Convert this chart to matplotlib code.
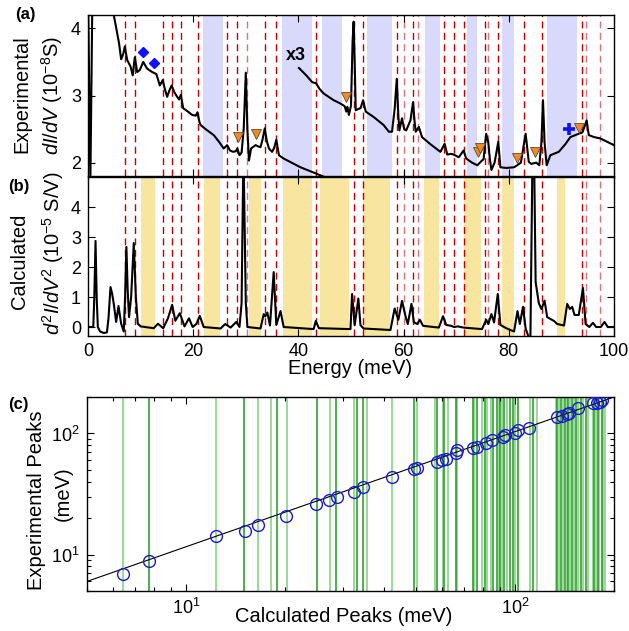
import matplotlib
matplotlib.use("Agg")
import matplotlib.pyplot as plt
import numpy as np

plt.rcParams['font.family'] = ['Liberation Sans', 'DejaVu Sans']
plt.rcParams['mathtext.fontset'] = 'custom'
plt.rcParams['mathtext.rm'] = 'Liberation Sans'
plt.rcParams['mathtext.it'] = 'Liberation Sans:italic'
plt.rcParams['mathtext.bf'] = 'Liberation Sans:bold'

# ---------------- data ----------------
# experimental dI/dV (10^-8 S), unscaled part
exp_E = [0.0, 0.45, 0.85, 4.6, 4.9, 5.9, 6.3, 6.7, 7.0, 7.45, 8.1, 8.5, 8.9, 9.35, 9.85,
         10.5, 11.25, 12.2, 13.0, 13.65, 14.2, 14.6, 15.05, 15.5, 15.9, 16.4, 16.8, 17.3,
         17.65, 18.1, 19.0, 19.8, 20.5, 20.8, 21.2, 21.4, 22.5, 23.9, 25.0, 25.8, 26.45,
         27.0, 27.6, 28.1, 28.4, 28.8, 29.2, 29.6, 30.0, 30.3, 30.6, 31.0, 31.85, 32.4,
         32.8, 33.2, 33.6, 34.0, 34.4, 35.0, 35.4, 35.8, 36.1, 36.3, 37.2, 40.4, 43.25,
         44.8, 46.0]
exp_G = [4.6, 1.7, 4.6, 4.35, 4.2, 3.78, 3.54, 3.62, 3.73, 3.53, 3.43, 3.30, 3.57, 3.35, 3.38,
         3.50, 3.40, 3.35, 3.32, 3.15, 3.23, 3.10, 2.98, 3.08, 3.15, 3.05, 3.00, 2.94,
         3.01, 2.81, 2.76, 2.71, 2.70, 2.75, 2.60, 2.56, 2.49, 2.41, 2.30, 2.21, 2.26,
         2.18, 2.16, 2.17, 2.21, 2.11, 2.15, 2.50, 3.34, 2.50, 2.03, 2.21, 2.26, 2.24,
         2.23, 2.35, 2.51, 2.32, 2.21, 2.16, 2.22, 2.34, 2.20, 2.11, 2.06, 1.93, 1.84,
         1.79, 1.75]

# experimental dI/dV, magnified x3 above 40 meV
x3_E = [40.1, 41.5, 42.6, 43.4, 44.0, 44.8, 46.7, 48.0, 48.8, 49.1, 49.3, 49.6, 50.0, 50.3,
        50.5, 50.7, 50.9, 51.4, 51.8, 52.3, 52.8, 54.3, 56.2, 57.2, 57.8, 58.3, 58.7, 59.0,
        59.2, 59.7, 60.1, 60.5, 61.3, 61.8, 62.1, 62.3, 62.9, 63.5, 65.0, 67.0, 67.8, 68.3,
        69.0, 69.5, 70.0, 70.5, 71.4, 71.9, 73.0, 74.0, 74.9, 75.2, 75.7, 76.1, 76.4, 76.7,
        77.3, 78.0, 78.4, 79.5, 81.0, 81.6, 82.3, 83.2, 83.8, 84.3, 84.75, 85.2, 85.8, 86.2,
        86.5, 86.8, 87.2, 87.9, 89.5, 90.8, 91.7, 93.3, 94.0, 94.8, 95.2, 96.2, 97.4, 98.7,
        100.0]
x3_G = [3.41, 3.30, 3.20, 3.18, 3.10, 3.03, 2.93, 2.88, 2.84, 2.76, 2.83, 2.71, 2.85, 3.80,
        4.10, 3.50, 2.78, 2.80, 2.81, 2.93, 2.76, 2.68, 2.56, 2.46, 2.46, 2.80, 3.25, 2.70,
        2.48, 2.66, 2.50, 2.48, 2.63, 2.90, 2.60, 2.46, 2.53, 2.38, 2.28, 2.16, 2.28, 2.12,
        2.13, 2.12, 2.10, 2.08, 2.18, 2.06, 2.00, 1.96, 2.03, 2.05, 2.43, 2.30, 2.05, 1.89,
        2.00, 2.31, 1.93, 1.92, 1.93, 1.96, 2.00, 2.43, 2.01, 1.98, 1.99, 2.00, 1.96, 2.30,
        2.93, 2.30, 1.96, 2.11, 2.16, 2.28, 2.38, 2.43, 2.45, 2.63, 2.41, 2.38, 2.36, 2.31,
        2.26]

# calculated d2I/dV2 (10^-5 S/V)
calc_E = [0.0, 1.0, 1.2, 1.43, 1.65, 1.87, 2.3, 3.0, 3.6, 3.9, 4.28, 4.6, 4.9, 5.35, 5.8,
          6.3, 6.8, 7.05, 7.3, 7.55, 7.8, 8.2, 8.7, 9.1, 9.47, 10.0, 12.5, 13.3, 14.3, 15.2,
          16.0, 16.6, 17.45, 18.35, 19.2, 19.9, 20.6, 21.25, 22.0, 25.2, 26.1, 27.1, 28.2,
          28.8, 29.2, 29.55, 30.0, 30.3, 32.8, 33.4, 33.7, 34.1, 34.6, 35.3, 35.8, 36.6,
          37.2, 42.9, 43.3, 43.9, 49.9, 50.2, 50.7, 51.4, 51.8, 52.4, 57.5, 58.3, 59.0, 59.7,
          60.4, 60.8, 61.5, 61.95, 62.6, 63.1, 63.7, 66.7, 67.5, 68.1, 69.0, 69.6, 70.3,
          71.4, 74.9, 75.7, 76.1, 76.7, 77.2, 77.9, 78.4, 79.5, 81.0, 81.65, 82.1, 82.7,
          83.2, 84.1, 84.65, 85.1, 85.7, 86.2, 86.8, 87.3, 88.6, 89.2, 90.5, 91.1, 91.6,
          92.05, 92.5, 93.3, 94.1, 94.6, 95.3, 96.0, 96.6, 97.5, 98.2, 98.8, 100.0]
calc_S = [0.0, 0.0, 1.0, 2.87, 1.0, 0.0, -0.15, -0.2, -0.18, 0.3, 1.33, 1.1, 0.77, 0.17, 0.7,
          0.11, -0.15, 1.0, 2.67, 1.2, 0.33, 1.0, 2.80, 1.0, 0.11, 0.02, -0.04, 0.11, -0.04, 0.29,
          0.74, 0.21, 0.46, 0.02, 0.29, 0.0, 0.1, 0.37, 0.0, -0.05, 0.1, -0.02, 0.17,
          0.0, 0.8, 6.0, 0.8, 0.0, -0.05, 0.43, 0.35, 0.48, 0.05, 1.83, 0.07, 0.53,
          0.0, -0.07, 0.2, -0.04, -0.07, 1.1, 0.06, 0.95, 0.06, -0.05, -0.1, 0.62, 0.24, 0.87,
          0.33, 0.1, 0.77, 0.16, 0.1, 0.24, 0.04, -0.02, 0.36, 0.07, 0.04, 0.0, 0.02,
          -0.02, -0.07, 0.24, 0.1, 0.43, 0.15, 1.1, 0.07, -0.04, -0.15, 0.53, 0.1, 0.67,
          -0.05, -0.5, 8.0, 1.5, 0.8, 0.6, 0.88, 0.33, 0.2, 0.1, 0.05, 0.77, 0.6,
          0.67, 0.4, 0.4, 1.3, 0.1, 0.0, 0.14, 0.0, 0.0, 0.17, 0.0, 0.0]

# experimental peak positions (meV): strong and weak assignments
peaks_strong = [7.0, 8.9, 14.2, 15.9, 17.6, 20.9, 26.4, 28.4, 33.6, 35.8, 43.4, 50.5, 52.3,
                58.7, 61.8, 67.7, 69.6, 71.4, 75.5, 77.9, 82.9, 86.4, 94.0]
peaks_weak = [30.2, 60.1, 62.8, 76.1, 94.7, 97.4]

# shaded energy windows (meV)
bands_exp = [(21.8, 25.7), (36.8, 42.5), (44.4, 48.3), (53.1, 57.8), (64.0, 67.0),
             (72.1, 74.0), (78.7, 81.0), (87.2, 92.9)]
bands_calc = [(10.0, 12.8), (22.0, 25.0), (30.6, 32.8), (37.0, 42.6), (44.1, 49.6),
              (52.2, 57.5), (63.8, 66.8), (71.5, 74.8), (78.7, 81.0), (89.1, 90.6)]

# special features marked on the experimental curve
diamond_E = [10.5, 12.6]
diamond_G = [3.65, 3.49]
tri_E = [28.55, 32.0, 49.0, 74.1, 74.6, 81.6, 84.9, 93.3]
tri_G = [2.38, 2.42, 2.98, 2.16, 2.22, 2.07, 2.16, 2.52]
plus_E = [91.4]
plus_G = [2.50]

# peak correspondence: calculated vs experimental (meV)
calc_peaks = [6.44, 7.72, 12.37, 15.07, 16.5, 20.2, 24.9, 27.2, 28.7, 32.4, 34.4, 42.3,
              49.4, 50.2, 57.8, 59.8, 61.5, 66.2, 66.5, 74.7, 76.4, 81.6, 85.3, 91.8, 93.3,
              100.0, 102.4, 110.5, 133.8, 138.7, 143.6, 146.3, 155.8, 173.0, 177.0, 181.0,
              184.5]
exp_peaks = [6.97, 8.87, 14.2, 15.7, 17.5, 20.8, 26.1, 28.1, 29.9, 32.9, 35.8, 43.3,
             50.4, 52.0, 58.2, 60.1, 62.1, 69.2, 72.8, 75.2, 77.5, 83.6, 88.1, 94.0, 96.8,
             100.0, 106.5, 110.0, 135.5, 139.0, 146.0, 148.0, 161.0, 177.0, 179.0, 182.5,
             188.0]
fit_x = [5.0, 200.0]
fit_y = [6.0, 200.0]

# all calculated mode energies (meV)
modes_dark = [7.72, 15.0, 18.9, 25.1, 28.6, 33.0, 34.4, 49.2, 58.1, 60.8, 66.2, 74.3, 76.5,
              81.1, 85.9, 88.2, 90.0, 92.7, 96.3, 98.9, 102.4, 113.7, 134.5, 137.7, 141.9,
              145.2, 148.7, 153.2, 158.4, 164.4, 173.9, 178.4, 183.5]
modes_light = [6.42, 12.34, 16.5, 18.1, 20.3, 27.3, 32.5, 35.6, 42.3, 50.2, 57.1, 60.3,
               62.4, 66.5, 75.0, 79.3, 82.4, 84.4, 89.7, 91.1, 94.8, 100.1, 111.1, 116.3,
               133.2, 136.1, 140.3, 143.6, 146.9, 151.1, 155.7, 161.3, 167.1, 172.3, 176.0,
               180.4, 185.5, 188.2]

# ---------------- figure ----------------
W, H = 629, 631
fig = plt.figure(figsize=(W / 100, H / 100), dpi=100)


def box(l, t, r, b):
    return [l / W, 1 - b / H, (r - l) / W, (b - t) / H]


def fxy(x, y):
    return x / W, 1 - y / H


ax_a = fig.add_axes(box(88, 15, 614, 176))
ax_b = fig.add_axes(box(88, 177, 614, 336))
ax_c = fig.add_axes(box(87, 397, 614, 591))

RED = '#c00000'
RED_L = '#d9737d'
LAV = '#d9d9fb'
YEL = '#f8e5a0'
TICK_FS = 13

for ax in (ax_a, ax_b, ax_c):
    ax.tick_params(direction='in', which='both', top=True, right=True,
                   labelsize=TICK_FS, length=5, width=0.8, pad=5)
    ax.tick_params(which='minor', length=3)
    for s in ax.spines.values():
        s.set_linewidth(1.0)

dash = (0, (5, 3.2))

# panel (a)
for lo, hi in bands_exp:
    ax_a.axvspan(lo, hi, color=LAV, lw=0, zorder=0)
for e in peaks_strong:
    ax_a.axvline(e, color=RED, lw=1.0, ls=dash, zorder=1)
    ax_b.axvline(e, color=RED, lw=1.0, ls=dash, zorder=1)
for e in peaks_weak:
    ax_a.axvline(e, color=RED_L, lw=1.0, ls=dash, zorder=1)
    ax_b.axvline(e, color=RED_L, lw=1.0, ls=dash, zorder=1)
ax_a.plot(exp_E, exp_G, color='black', lw=1.5, zorder=3)
ax_a.plot(x3_E, x3_G, color='black', lw=1.5, zorder=3)
ax_a.plot(diamond_E, diamond_G, 'D', color='#1010ff', ms=5.5, zorder=4)
ax_a.plot(tri_E, tri_G, 'v', mfc='#f28a1e', mec='#5a4a3a', mew=0.6, ms=6.5, zorder=4)
ax_a.plot(plus_E, plus_G, '+', color='#1010ff', ms=9, mew=2.6, zorder=4)
ax_a.text(39.6, 3.6, 'x3', fontsize=13, fontweight='bold', ha='center', va='center')
ax_a.set_xlim(0, 100)
ax_a.set_ylim(1.8, 4.2)
ax_a.set_yticks([2, 3, 4])
ax_a.set_xticks([0, 20, 40, 60, 80, 100])
ax_a.tick_params(labelbottom=False)

# panel (b)
for lo, hi in bands_calc:
    ax_b.axvspan(lo, hi, color=YEL, lw=0, zorder=0)
ax_b.plot(calc_E, calc_S, color='black', lw=1.5, zorder=3)
ax_b.set_xlim(0, 100)
ax_b.set_ylim(-0.3, 5.0)
ax_b.set_yticks([0, 1, 2, 3, 4])
ax_b.set_xticks([0, 20, 40, 60, 80, 100])

# panel (c)
for e in modes_light:
    ax_c.axvline(e, color='#7fcf7f', lw=1.1, zorder=1)
for e in modes_dark:
    ax_c.axvline(e, color='#1c9a1c', lw=1.1, zorder=1)
ax_c.plot(fit_x, fit_y, color='black', lw=0.8, zorder=2)
ax_c.plot(calc_peaks, exp_peaks, 'o', mfc='none', mec='#1a1acc', mew=1.0, ms=8.5, zorder=3)
ax_c.set_xscale('log')
ax_c.set_yscale('log')
ax_c.set_xlim(5, 200)
ax_c.set_ylim(5, 200)

# axis titles and panel tags
LAB_FS = 14.5
fig.text(*fxy(350, 368), 'Energy (meV)', fontsize=LAB_FS, ha='center', va='center')
fig.text(*fxy(344, 617), 'Calculated Peaks (meV)', fontsize=LAB_FS, ha='center', va='center')
fig.text(*fxy(22, 94), 'Experimental', fontsize=LAB_FS, rotation=90, ha='center', va='center')
fig.text(*fxy(52, 95), '$dI/dV$ (10$^{-8}$S)', fontsize=LAB_FS, rotation=90, ha='center', va='center')
fig.text(*fxy(20, 261), 'Calculated', fontsize=LAB_FS, rotation=90, ha='center', va='center')
fig.text(*fxy(53, 253), '$d^2I/dV^2$ (10$^{-5}$ S/V)', fontsize=LAB_FS, rotation=90, ha='center', va='center')
fig.text(*fxy(37, 500), 'Experimental Peaks', fontsize=LAB_FS, rotation=90, ha='center', va='center')
fig.text(*fxy(63, 494), '(meV)', fontsize=LAB_FS, rotation=90, ha='center', va='center')
fig.text(*fxy(25, 15), '(a)', fontsize=12, fontweight='bold', ha='center', va='center')
fig.text(*fxy(19, 187), '(b)', fontsize=12, fontweight='bold', ha='center', va='center')
fig.text(*fxy(18, 405), '(c)', fontsize=12, fontweight='bold', ha='center', va='center')

fig.savefig('out.png', dpi=100)
